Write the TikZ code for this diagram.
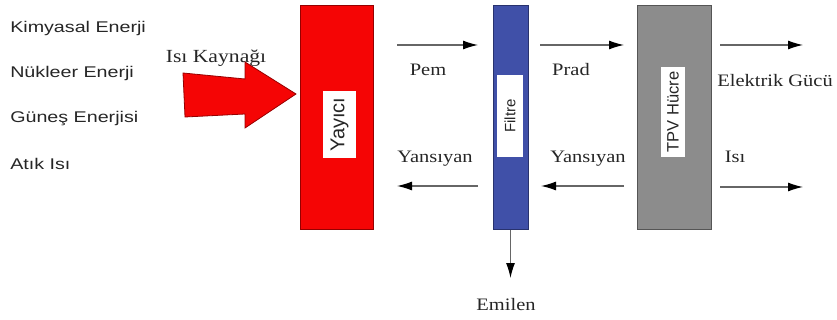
\documentclass[tikz,border=0pt]{standalone}
\usepackage{fontspec}
\setmainfont{Liberation Serif}
\setsansfont{Liberation Sans}
\usetikzlibrary{arrows.meta}
\definecolor{emred}{RGB}{245,5,5}
\definecolor{emredd}{RGB}{150,0,0}
\definecolor{fblue}{RGB}{64,80,168}
\definecolor{fblued}{RGB}{40,50,110}
\definecolor{tgray}{RGB}{140,140,140}
\definecolor{tgrayd}{RGB}{85,85,85}
\begin{document}
\begin{tikzpicture}[x=1pt,y=-1pt,
  src/.style={font=\sffamily\fontsize{15.5}{18}\selectfont, xscale=1.27, anchor=west, inner sep=0pt, text=black!85},
  lbl/.style={font=\fontsize{17.5}{20}\selectfont, xscale=1.17, inner sep=0pt, text=black!85},
  flow/.style={draw=black!60, line width=1.2pt, -{Latex[length=15pt,width=9pt,color=black]}},
  block/.style={rectangle, line width=1pt, minimum width=#1, minimum height=224pt, inner sep=0pt},
  tag/.style={rectangle, fill=white, rotate=90, inner sep=0pt, font=\sffamily, text=black!85}
]
\useasboundingbox (0,0) rectangle (837,320);

% sources
\node[src] (kim) at (10,28) {Kimyasal Enerji};
\node[src] (nuk) at (10,73) {Nükleer Enerji};
\node[src] (gun) at (10,118.5) {Güneş Enerjisi};
\node[src] (atik) at (10,164) {Atık Isı};

% heat source arrow
\node[lbl, font=\fontsize{18.5}{20}\selectfont] (kaynak) at (216,58) {Isı Kaynağı};
\filldraw[fill=emred, draw=emredd, line width=0.8pt]
  (183,73) -- (245,79) -- (245,62) -- (296,94) -- (245,128) -- (245,114) -- (185,117) -- cycle;

% blocks
\node[block=73pt, fill=emred, draw=emredd] (yay) at (336.5,117.5) {};
\node[tag, minimum width=67pt, minimum height=33pt, font=\sffamily\fontsize{20}{22}\selectfont] (yayl) at (339.5,124.5) {Yayıcı};

\node[block=35pt, fill=fblue, draw=fblued] (fil) at (510.5,117.5) {};
\node[tag, minimum width=82pt, minimum height=26pt, font=\sffamily\fontsize{15}{17}\selectfont] (fill) at (510,116) {Filtre};

\node[block=74pt, fill=tgray, draw=tgrayd] (tpv) at (674,118) {};
\node[tag, minimum width=90pt, minimum height=24pt, font=\sffamily\fontsize{16.5}{18}\selectfont] (tpvl) at (673,112) {TPV Hücre};

% coordinates for flows
\coordinate (a1) at (397,45);  \coordinate (a2) at (478,45);
\coordinate (b1) at (478,186); \coordinate (b2) at (397,186);
\coordinate (c1) at (540,45);  \coordinate (c2) at (624,45);
\coordinate (d1) at (624,186); \coordinate (d2) at (541,186);
\coordinate (e1) at (720,45);  \coordinate (e2) at (803,45);
\coordinate (f1) at (720,187); \coordinate (f2) at (803,187);
\coordinate (g2) at (510.5,278);

\draw[flow] (a1) -- (a2);
\draw[flow] (b1) -- (b2);
\draw[flow] (c1) -- (c2);
\draw[flow] (d1) -- (d2);
\draw[flow] (e1) -- (e2);
\draw[flow] (f1) -- (f2);
\draw[flow] (fil.south) -- (g2);

% labels
\node[lbl] (pem) at (428,70) {Pem};
\node[lbl] (yans1) at (435,159) {Yansıyan};
\node[lbl] (prad) at (571,70) {Prad};
\node[lbl] (yans2) at (588,159) {Yansıyan};
\node[lbl] (elek) at (775,81) {Elektrik Gücü};
\node[lbl] (isi) at (735,157) {Isı};
\node[lbl] (emil) at (506,305) {Emilen};
\end{tikzpicture}
\end{document}
